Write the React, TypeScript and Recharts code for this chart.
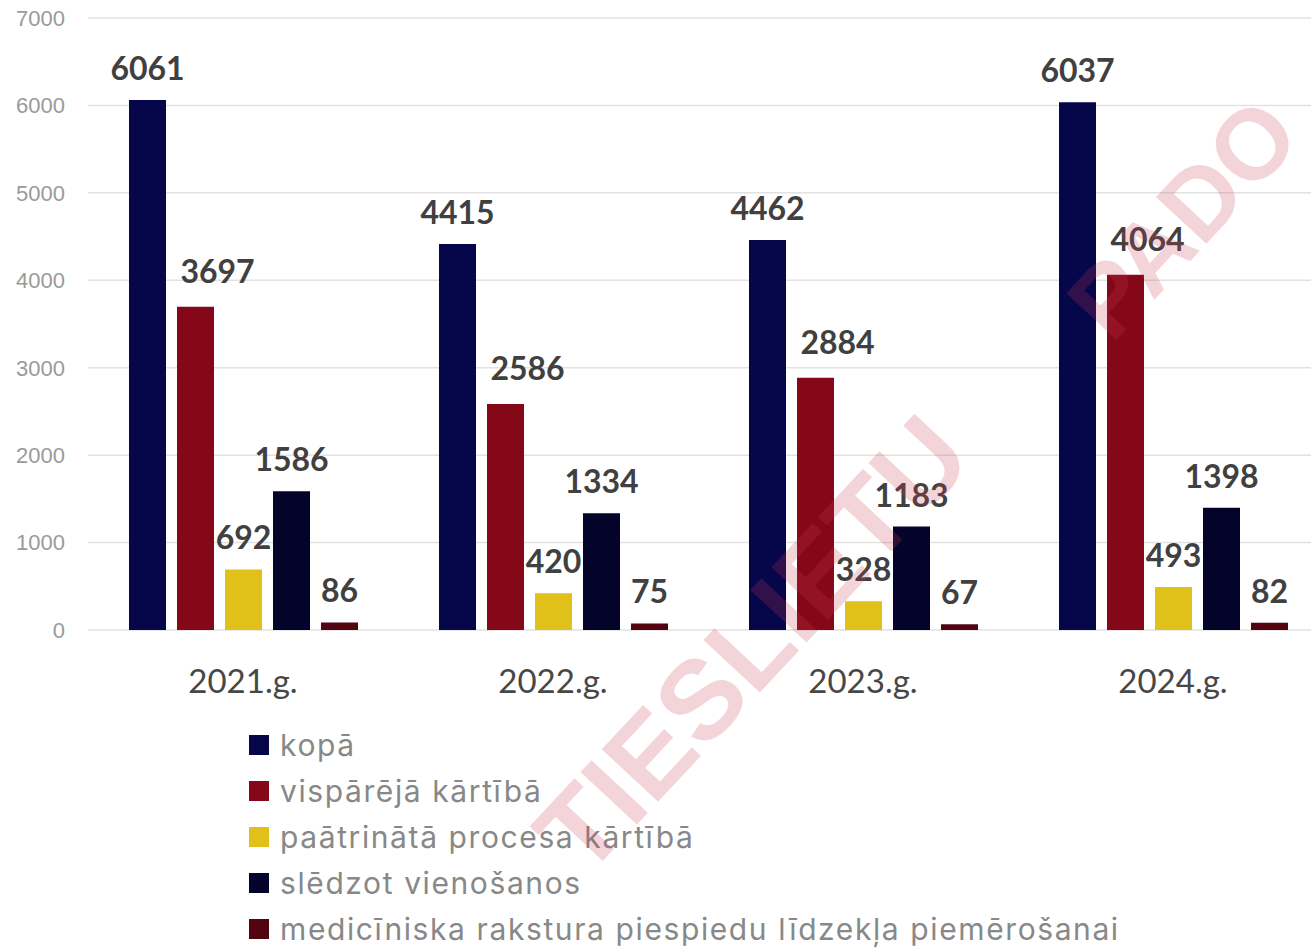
import { BarChart, Bar, XAxis, YAxis, CartesianGrid, Legend, LabelList } from "recharts";

const YEARS = ["2021.g.", "2022.g.", "2023.g.", "2024.g."];
const KOPA = [6061, 4415, 4462, 6037];
const VISPAREJA = [3697, 2586, 2884, 4064];
const PAATRINATA = [692, 420, 328, 493];
const SLEDZOT = [1586, 1334, 1183, 1398];
const MEDICINISKA = [86, 75, 67, 82];
const Y_TICKS = [0, 1000, 2000, 3000, 4000, 5000, 6000, 7000];

const SERIES = [
  { key: "kopa", name: "kopā", color: "#06064A", values: KOPA, dx: 0 },
  { key: "vispareja", name: "vispārējā kārtībā", color: "#850818", values: VISPAREJA, dx: 22 },
  { key: "paatrinata", name: "paātrinātā procesa kārtībā", color: "#E0C11A", values: PAATRINATA, dx: 0 },
  { key: "sledzot", name: "slēdzot vienošanos", color: "#04042A", values: SLEDZOT, dx: 0 },
  { key: "mediciniska", name: "medicīniska rakstura piespiedu līdzekļa piemērošanai", color: "#520510", values: MEDICINISKA, dx: 0 },
];

const data = YEARS.map((year, i) => {
  const row: Record<string, string | number> = { year };
  SERIES.forEach((s) => (row[s.key] = s.values[i]));
  return row;
});

function LegendList() {
  return (
    <div style={{ fontFamily: "Inter, 'Noto Sans', sans-serif", fontSize: 30, letterSpacing: 1.6, color: "#888" }}>
      {SERIES.map((s) => (
        <div key={s.key} style={{ display: "flex", alignItems: "center", height: 46 }}>
          <span style={{ width: 20, height: 20, background: s.color, marginRight: 11, flexShrink: 0 }} />
          <span style={{ whiteSpace: "nowrap" }}>{s.name}</span>
        </div>
      ))}
    </div>
  );
}

export default function App() {
  return (
    <div style={{ position: "absolute", left: 0, top: 0, width: 1311, height: 948, overflow: "hidden", background: "#fff" }}>
      <BarChart
        width={1340}
        height={948}
        data={data}
        margin={{ top: 18, right: 12, left: 0, bottom: 258 }}
        barCategoryGap={41}
        barGap={11}
      >
        <CartesianGrid vertical={false} stroke="#e2e2e2" strokeWidth={1.5} />
        <XAxis
          dataKey="year"
          axisLine={false}
          tickLine={false}
          tickSize={0}
          tickMargin={40}
          height={60}
          tick={{ fill: "#474747", fontSize: 33, fontFamily: "Lato, sans-serif" }}
        />
        <YAxis
          domain={[0, 7000]}
          ticks={Y_TICKS}
          axisLine={false}
          tickLine={false}
          tickSize={0}
          tickMargin={23}
          width={88}
          tick={{ fill: "#9a9a9a", fontSize: 22, fontFamily: "'Liberation Sans', Arial, sans-serif" }}
        />
        <Legend
          layout="vertical"
          align="center"
          verticalAlign="middle"
          wrapperStyle={{ left: 249, top: 722, width: 1060 }}
          content={() => <LegendList />}
        />
        {SERIES.map((s) => (
          <Bar key={s.key} dataKey={s.key} name={s.name} fill={s.color} isAnimationActive={false}>
            <LabelList
              dataKey={s.key}
              position="top"
              offset={s.dx ? 24 : 20}
              dx={s.dx}
              fill="#404040"
              style={{ fontSize: 32, fontWeight: 700, fontFamily: "Lato, sans-serif" }}
            />
          </Bar>
        ))}
      </BarChart>
      {/* faint watermark that sits over the reference image */}
      <svg width={1311} height={948} style={{ position: "absolute", left: 0, top: 0, pointerEvents: "none" }}>
        <g fill="rgba(200, 60, 80, 0.22)" fontWeight={700} fontFamily="'Liberation Sans', Arial, sans-serif">
          <text fontSize={112} transform="translate(585 880) rotate(-47)">TIESLIETU</text>
          <text fontSize={100} transform="translate(1112 345) rotate(-47)">PADO</text>
        </g>
      </svg>
    </div>
  );
}
